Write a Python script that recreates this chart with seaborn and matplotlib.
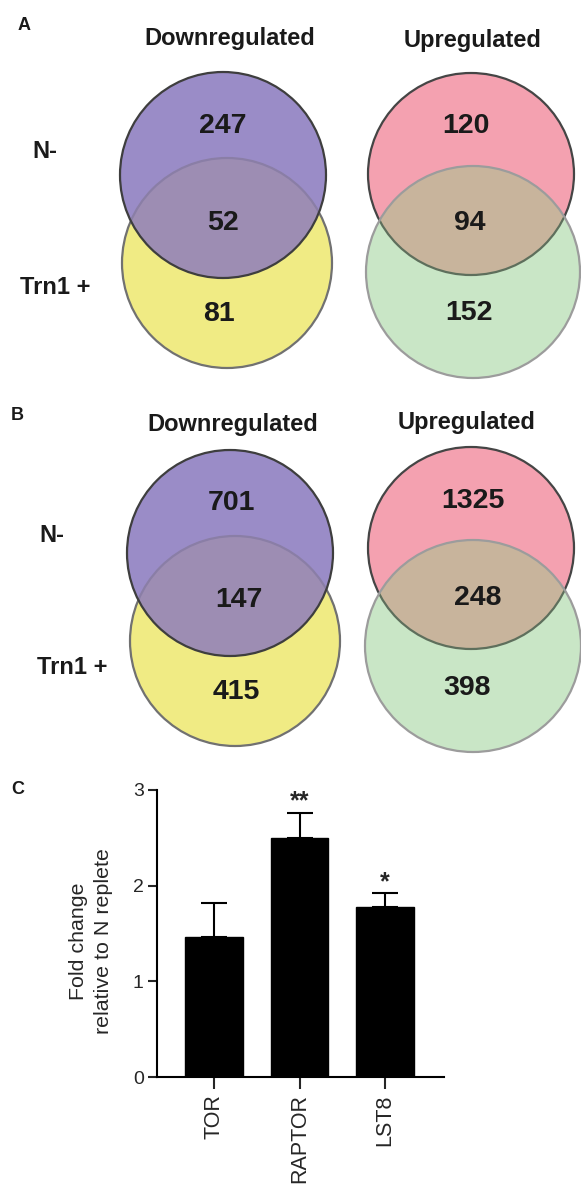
import numpy as np
import pandas as pd
import matplotlib
matplotlib.use("Agg")
import matplotlib.pyplot as plt
from matplotlib.patches import Ellipse
import seaborn as sns

sns.set_style("white")
plt.rcParams['font.family'] = ['Liberation Sans', 'DejaVu Sans']

# data
venn_titles = ["Downregulated", "Upregulated"]
row_labels = ["N-", "Trn1 +"]
panel_a_down = [247, 52, 81]     # N- only, both, Trn1+ only
panel_a_up = [120, 94, 152]
panel_b_down = [701, 147, 415]
panel_b_up = [1325, 248, 398]

genes = ["TOR", "RAPTOR", "LST8"]
fold_change = [1.46, 2.50, 1.78]
fold_err = [0.36, 0.26, 0.14]
signif = ["", "**", "*"]

fig = plt.figure(figsize=(5.81, 11.87), dpi=100)
bg = fig.add_axes([0, 0, 1, 1])
bg.set_xlim(0, 581)
bg.set_ylim(1187, 0)
bg.axis("off")


def ell(c, **kw):
    return Ellipse((c[0], c[1]), 2 * c[2], 2 * c[3], **kw)


def put_counts(ax, counts, pos):
    for n, (x, y) in zip(counts, pos):
        ax.text(x, y, str(n), ha="center", va="center", fontsize=20.5,
                fontweight="bold", color="#1a1a1a", zorder=5)


def draw_down(ax, top, bot, counts, pos):
    ax.add_patch(ell(bot, facecolor="#f0eb84", edgecolor="#717171", lw=1.6, zorder=1))
    pur = ell(top, facecolor="#9a8cc7", edgecolor="none", zorder=2)
    ax.add_patch(pur)
    ov = ell(bot, facecolor="#9d8db3", edgecolor="#8a7ea6", lw=1.6, zorder=3)
    ax.add_patch(ov)
    ov.set_clip_path(pur)
    ax.add_patch(ell(top, facecolor="none", edgecolor="#3e3e3e", lw=1.6, zorder=4))
    put_counts(ax, counts, pos)


def draw_up(ax, top, bot, counts, pos):
    ax.add_patch(ell(top, facecolor="#f4a1b0", edgecolor="#454545", lw=1.6, zorder=1))
    grn = ell(bot, facecolor="#c9e6c6", edgecolor="none", zorder=2)
    ax.add_patch(grn)
    ov = ell(top, facecolor="#c8b49c", edgecolor="#5e6f5c", lw=1.6, zorder=3)
    ax.add_patch(ov)
    ov.set_clip_path(grn)
    ax.add_patch(ell(bot, facecolor="none", edgecolor="#9c9c9c", lw=1.6, zorder=4))
    put_counts(ax, counts, pos)


# panel A
draw_down(bg, (223, 175, 103, 103), (227, 263, 105, 105), panel_a_down,
          [(223, 126), (223, 223), (219, 314)])
draw_up(bg, (471, 174, 103, 101), (473, 272, 107, 106), panel_a_up,
        [(466, 126), (470, 223), (469, 313)])
# panel B
draw_down(bg, (230, 553, 103, 103), (235, 641, 105, 105), panel_b_down,
          [(231, 503), (239, 600), (236, 692)])
draw_up(bg, (471, 548, 103, 101), (473, 646, 108, 106), panel_b_up,
        [(473, 501), (478, 598), (467, 688)])

txt = dict(ha="center", va="center", fontweight="bold", color="#1a1a1a")
bg.text(24, 25, "A", fontsize=13, **txt)
bg.text(17, 416, "B", fontsize=13, **txt)
bg.text(18, 789, "C", fontsize=13, **txt)
for (x, y), t in zip([(230, 38), (473, 40), (233, 425), (467, 422)], venn_titles * 2):
    bg.text(x, y, t, fontsize=17, **txt)
for (x, y), t in zip([(45, 152), (55, 287), (52, 535), (72, 668)], row_labels * 2):
    bg.text(x, y, t, fontsize=17, **txt)

# panel C
ax = fig.add_axes([157 / 581, 1 - 1077 / 1187, 287 / 581, 287 / 1187])
df = pd.DataFrame({"gene": genes, "fold": fold_change})
sns.barplot(data=df, x="gene", y="fold", color="black", width=0.67,
            errorbar=None, ax=ax, saturation=1, linewidth=1.0,
            edgecolor="black", zorder=3)
# upper error only, drawn behind the bars
ax.errorbar(np.arange(len(genes)), fold_change,
            yerr=[np.zeros(len(genes)), fold_err], fmt="none",
            ecolor="black", elinewidth=1.5, capsize=9.6, capthick=1.5,
            zorder=1)
for i, s in enumerate(signif):
    if s:
        ax.text(i, fold_change[i] + fold_err[i] + 0.12, s, ha="center",
                va="center", fontsize=18, fontweight="bold")
ax.set_xlim(-0.667, 2.69)
ax.set_ylim(0, 3)
ax.set_yticks([0, 1, 2, 3])
ax.set_facecolor("none")
sns.despine(ax=ax)
for sp in ["left", "bottom"]:
    ax.spines[sp].set_linewidth(1.5)
    ax.spines[sp].set_color("black")
    ax.spines[sp].set_zorder(4)
ax.tick_params(axis="y", length=6.5, width=1.5, direction="out", left=True,
               labelsize=14, pad=3)
ax.tick_params(axis="x", length=8.5, width=1.5, direction="out", bottom=True,
               labelsize=15.5, pad=4)
for lab in ax.get_xticklabels():
    lab.set_rotation(90)
ax.set_xlabel("")
ax.set_ylabel("Fold change\nrelative to N replete", fontsize=15.4,
              linespacing=1.35)
ax.yaxis.set_label_coords(-0.155, 0.474)

fig.savefig("out.png", dpi=100)
